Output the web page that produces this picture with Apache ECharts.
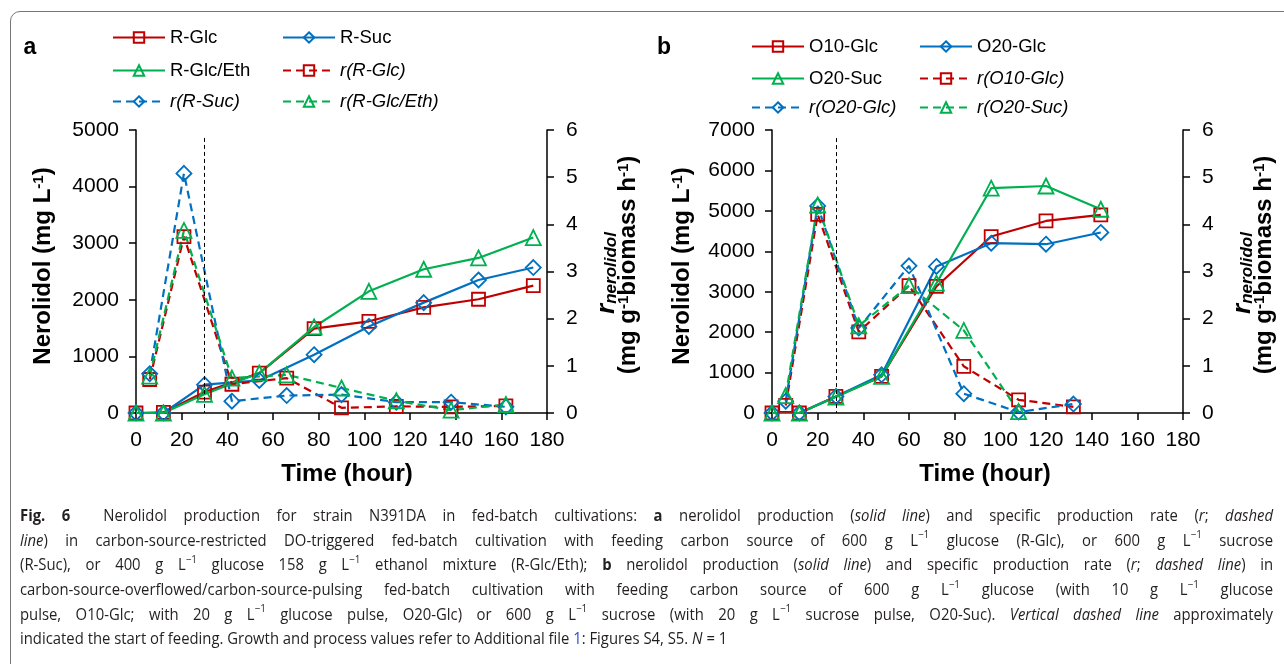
<!DOCTYPE html>
<html>
<head>
<meta charset="utf-8">
<script src="https://cdn.jsdelivr.net/npm/echarts@6/dist/echarts.min.js"></script>
<style>
  body { margin: 0; background: #fff; width: 1284px; height: 664px; overflow: hidden; position: relative; }
  #chart { position: absolute; left: 0; top: 0; width: 1284px; height: 500px; }
  .frame { position: absolute; left: 10px; top: 11px; width: 1320px; height: 700px; border: 1px solid #777; border-radius: 10px; pointer-events: none; }
  .caption { position: absolute; left: 20px; top: 503px; font-family: "Open Sans", sans-serif; font-size: 16.5px; color: #231f20; }
  .caption .ln { display: block; white-space: nowrap; height: 24.7px; line-height: 24.7px; transform-origin: 0 50%; }
  .caption sup { font-size: 11px; line-height: 0; position: relative; top: -1px; }
  .caption .link { color: #2a4dd6; }
</style>
</head>
<body>
<div id="chart"></div>
<div class="frame"></div>
<div class="caption">
  <span class="ln"><b>Fig. 6</b>&nbsp; Nerolidol production for strain N391DA in fed-batch cultivations: <b>a</b> nerolidol production (<i>solid line</i>) and specific production rate (<i>r</i>; <i>dashed</i></span>
  <span class="ln"><i>line</i>) in carbon-source-restricted DO-triggered fed-batch cultivation with feeding carbon source of 600 g L<sup>−1</sup> glucose (R-Glc), or 600 g L<sup>−1</sup> sucrose</span>
  <span class="ln">(R-Suc), or 400 g L<sup>−1</sup> glucose 158 g L<sup>−1</sup> ethanol mixture (R-Glc/Eth); <b>b</b> nerolidol production (<i>solid line</i>) and specific production rate (<i>r</i>; <i>dashed line</i>) in</span>
  <span class="ln">carbon-source-overflowed/carbon-source-pulsing fed-batch cultivation with feeding carbon source of 600 g L<sup>−1</sup> glucose (with 10 g L<sup>−1</sup> glucose</span>
  <span class="ln">pulse, O10-Glc; with 20 g L<sup>−1</sup> glucose pulse, O20-Glc) or 600 g L<sup>−1</sup> sucrose (with 20 g L<sup>−1</sup> sucrose pulse, O20-Suc). <i>Vertical dashed line</i> approximately</span>
  <span class="ln last">indicated the start of feeding. Growth and process values refer to Additional file <span class="link">1</span>: Figures S4, S5. <i>N</i> = 1</span>
</div>
<script>
// panel a: restricted fed-batch
const timeA = [0, 12, 30, 54, 78, 102, 126, 150, 174];
const timeRateA = [6, 21, 42, 66, 90, 114, 138, 162];
const rGlc = [0, 10, 370, 705, 1490, 1620, 1865, 2010, 2250];
const rSuc = [0, 0, 500, 575, 1030, 1530, 1950, 2350, 2570];
const rGlcEth = [0, 0, 330, 705, 1520, 2150, 2540, 2740, 3100];
const rateRGlc = [0.71, 3.74, 0.61, 0.74, 0.11, 0.14, 0.13, 0.15];
const rateRSuc = [0.83, 5.08, 0.25, 0.37, 0.39, 0.23, 0.23, 0.13];
const rateRGlcEth = [0.78, 3.87, 0.74, 0.81, 0.53, 0.26, 0.06, 0.18];
const feedStartA = 30;

// panel b: overflowed / pulsing fed-batch
const timeB = [0, 12, 28, 48, 72, 96, 120, 144];
const timeRateB = [6, 20, 38, 60, 84, 108, 132];
const o10Glc = [0, 0, 410, 905, 3130, 4365, 4750, 4900];
const o20Glc = [0, 0, 410, 945, 3625, 4200, 4175, 4465];
const o20Suc = [0, 0, 395, 905, 3210, 5560, 5615, 5040];
const rateO10Glc = [0.16, 4.21, 1.72, 2.70, 0.99, 0.28, 0.13];
const rateO20Glc = [0.25, 4.39, 1.80, 3.12, 0.41, 0.02, 0.19];
const rateO20Suc = [0.37, 4.41, 1.85, 2.70, 1.75, 0.03];
const feedStartB = 28;

const RED = "#c00000", BLUE = "#0070c0", GREEN = "#00b050";
const FONT = "Liberation Sans";

let myChart = echarts.init(document.getElementById("chart"));

function line(name, xs, ys, color, symbol, dashed, xi, yi) {
  return {
    name: name,
    type: "line",
    xAxisIndex: xi,
    yAxisIndex: yi,
    data: xs.map((x, i) => [x, ys[i]]),
    symbol: symbol,
    symbolSize: symbol === "rect" ? 13 : 15,
    showAllSymbol: true,
    animation: false,
    color: color,
    itemStyle: { color: "rgba(255,255,255,0)", borderColor: color, borderWidth: 1.8 },
    lineStyle: { color: color, width: 2.2, type: dashed ? [8, 5] : "solid" },
  };
}

function feedLine(x, top) {
  return {
    silent: true,
    symbol: ["none", "none"],
    label: { show: false },
    lineStyle: { color: "#000", width: 1, type: [4, 3] },
    data: [[{ coord: [x, top] }, { coord: [x, 0] }]],
  };
}

const axisLine = { show: true, onZero: false, lineStyle: { color: "#000", width: 1.5 } };
const axisTick = { show: true, inside: false, length: 7, lineStyle: { color: "#000", width: 1.5 } };
const tickLabel = { color: "#000", fontSize: 21, fontFamily: FONT, margin: 17, formatter: (v) => String(v) };

function xAxis(gi) {
  return { type: "value", gridIndex: gi, min: 0, max: 180, interval: 20, axisLine, axisTick, splitLine: { show: false }, axisLabel: tickLabel };
}
function yAxis(gi, pos, max, interval) {
  return {
    type: "value", gridIndex: gi, position: pos, min: 0, max: max, interval: interval,
    axisLine, axisTick, splitLine: { show: false },
    axisLabel: Object.assign({}, tickLabel, { margin: pos === "left" ? 17 : 19 }),
  };
}

// one legend per item so the two-column layout matches the figure
function legendItem(name, left, cy, italic) {
  return {
    data: [{ name: name, textStyle: { fontStyle: italic ? "italic" : "normal" } }],
    left: left, top: cy - 10, padding: 0,
    itemWidth: 52, itemHeight: 13, itemGap: 5,
    selectedMode: false,
    textStyle: { fontSize: 18.5, fontFamily: FONT, color: "#000" },
  };
}

const legends = [
  legendItem("R-Glc", 112, 38), legendItem("R-Suc", 282, 38),
  legendItem("R-Glc/Eth", 112, 71), legendItem("r(R-Glc)", 282, 71, true),
  legendItem("r(R-Suc)", 112, 102, true), legendItem("r(R-Glc/Eth)", 282, 102, true),
  legendItem("O10-Glc", 751, 47), legendItem("O20-Glc", 919, 47),
  legendItem("O20-Suc", 751, 79), legendItem("r(O10-Glc)", 919, 79, true),
  legendItem("r(O20-Glc)", 751, 108, true), legendItem("r(O20-Suc)", 919, 108, true),
];

const rich = {
  n: { fontSize: 24, fontWeight: "bold", fontFamily: FONT, color: "#000" },
  s: { fontSize: 15, fontWeight: "bold", fontFamily: FONT, color: "#000", verticalAlign: "top" },
  r: { fontSize: 26, fontWeight: "bold", fontStyle: "italic", fontFamily: FONT, color: "#000" },
  sub: { fontSize: 17, fontWeight: "bold", fontStyle: "italic", fontFamily: FONT, color: "#000", verticalAlign: "bottom" },
};

function vText(x, y, text) {
  return {
    type: "text", x: x, y: y, rotation: Math.PI / 2, silent: true,
    style: { text: text, rich: rich, align: "center", verticalAlign: "middle", textAlign: "center", textVerticalAlign: "middle" },
  };
}
function hText(x, y, text, size) {
  return {
    type: "text", x: x, y: y, silent: true,
    style: { text: text, fontSize: size, fontWeight: "bold", fontFamily: FONT, fill: "#000", align: "center", verticalAlign: "middle", textAlign: "center", textVerticalAlign: "middle" },
  };
}

const leftTitle = "{n|Nerolidol (mg L}{s|-1}{n|)}";
const rateTitle1 = "{r|r}{sub|nerolidol}";
const rateTitle2 = "{n|(mg g}{s|-1}{n|biomass h}{s|-1}{n|)}";

let series = [
  line("R-Glc", timeA, rGlc, RED, "rect", false, 0, 0),
  line("R-Suc", timeA, rSuc, BLUE, "diamond", false, 0, 0),
  line("R-Glc/Eth", timeA, rGlcEth, GREEN, "triangle", false, 0, 0),
  line("r(R-Glc)", timeRateA, rateRGlc, RED, "rect", true, 0, 1),
  line("r(R-Suc)", timeRateA, rateRSuc, BLUE, "diamond", true, 0, 1),
  line("r(R-Glc/Eth)", timeRateA, rateRGlcEth, GREEN, "triangle", true, 0, 1),
  line("O10-Glc", timeB, o10Glc, RED, "rect", false, 1, 2),
  line("O20-Glc", timeB, o20Glc, BLUE, "diamond", false, 1, 2),
  line("O20-Suc", timeB, o20Suc, GREEN, "triangle", false, 1, 2),
  line("r(O10-Glc)", timeRateB, rateO10Glc, RED, "rect", true, 1, 3),
  line("r(O20-Glc)", timeRateB, rateO20Glc, BLUE, "diamond", true, 1, 3),
  line("r(O20-Suc)", timeRateB, rateO20Suc, GREEN, "triangle", true, 1, 3),
];
series[0].markLine = feedLine(feedStartA, 4860);
series[6].markLine = feedLine(feedStartB, 6800);

myChart.setOption({
  animation: false,
  grid: [
    { left: 136, top: 130, width: 411, height: 283 },
    { left: 772, top: 130, width: 411, height: 283 },
  ],
  xAxis: [xAxis(0), xAxis(1)],
  yAxis: [
    yAxis(0, "left", 5000, 1000), yAxis(0, "right", 6, 1),
    yAxis(1, "left", 7000, 1000), yAxis(1, "right", 6, 1),
  ],
  legend: legends,
  graphic: [
    hText(30, 48, "a", 23), hText(664, 48, "b", 23),
    hText(347, 474, "Time (hour)", 24), hText(985, 474, "Time (hour)", 24),
    vText(43, 266, leftTitle), vText(682, 266, leftTitle),
    vText(607, 273, rateTitle1), vText(628, 265, rateTitle2),
    vText(1243, 273, rateTitle1), vText(1264, 265, rateTitle2),
  ],
  series: series,
});

// caption lines 1-5 are justified to the full text width, the last one is not
const target = 1253, squeeze = 0.9;
document.querySelectorAll(".caption .ln").forEach(function (el) {
  el.style.display = "inline-block";
  let w = el.getBoundingClientRect().width;
  el.style.display = "block";
  if (el.classList.contains("last")) {
    el.style.transform = "scaleX(" + squeeze + ")";
    return;
  }
  let spaces = (el.textContent.match(/[ \u00a0]/g) || []).length;
  if (w * squeeze < target) {
    el.style.wordSpacing = (target / squeeze - w) / spaces + "px";
    el.style.transform = "scaleX(" + squeeze + ")";
  } else {
    el.style.transform = "scaleX(" + target / w + ")";
  }
});
</script>
</body>
</html>
